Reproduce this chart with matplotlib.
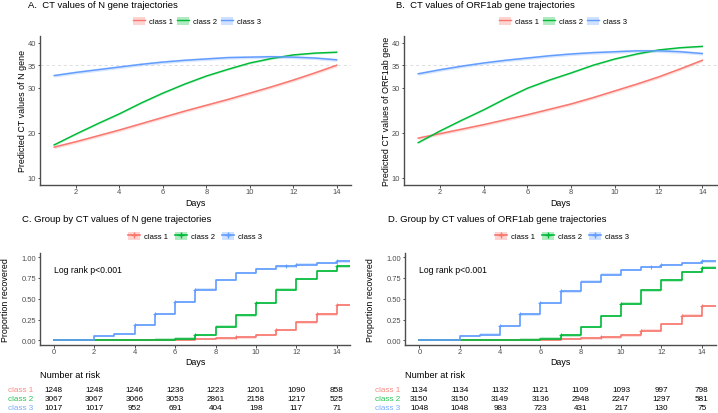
import matplotlib as mpl
mpl.use("Agg")
import numpy as np
import matplotlib.pyplot as plt
from matplotlib.patches import Patch
from matplotlib.lines import Line2D
from matplotlib.transforms import blended_transform_factory

plt.rcParams["font.family"] = ["Liberation Sans", "DejaVu Sans"]

W, H = 718, 414
COLS = ["#F8766D", "#00BA38", "#619CFF"]
CLASSES = ["class 1", "class 2", "class 3"]

# ---- trajectory data (predicted CT by day) ----
traj_days = list(range(1, 15))
n_gene = [
    [16.8, 18.0, 19.3, 20.6, 22.0, 23.4, 24.8, 26.1, 27.4, 28.8, 30.2, 31.7, 33.3, 35.0],
    [17.3, 19.7, 22.0, 24.2, 26.6, 28.8, 30.8, 32.6, 34.1, 35.5, 36.5, 37.3, 37.7, 37.9],
    [32.7, 33.4, 34.0, 34.6, 35.2, 35.7, 36.1, 36.4, 36.7, 36.8, 36.9, 36.8, 36.6, 36.2],
]
orf_gene = [
    [18.8, 19.8, 20.8, 21.8, 22.9, 24.0, 25.2, 26.4, 27.8, 29.3, 30.8, 32.4, 34.2, 36.1],
    [17.8, 20.4, 22.8, 25.1, 27.6, 29.9, 31.7, 33.3, 35.0, 36.4, 37.5, 38.4, 38.9, 39.2],
    [33.1, 34.0, 34.8, 35.5, 36.1, 36.6, 37.1, 37.5, 37.8, 38.0, 38.2, 38.2, 38.0, 37.6],
]
traj_ci = [0.35, 0.2, 0.35]

# ---- Kaplan-Meier data (proportion recovered, step after each day) ----
km_days = list(range(0, 15))
km_n = [
    [0, 0, 0.002, 0.003, 0.004, 0.006, 0.01, 0.015, 0.025, 0.035, 0.065, 0.125, 0.217, 0.313, 0.425],
    [0, 0, 0.003, 0.004, 0.005, 0.008, 0.02, 0.065, 0.165, 0.30, 0.45, 0.61, 0.735, 0.835, 0.888],
    [0, 0, 0.052, 0.076, 0.185, 0.317, 0.458, 0.61, 0.727, 0.81, 0.86, 0.888, 0.91, 0.93, 0.948],
]
km_orf = [
    [0, 0, 0.002, 0.003, 0.004, 0.006, 0.01, 0.015, 0.025, 0.035, 0.06, 0.117, 0.197, 0.297, 0.41],
    [0, 0, 0.003, 0.004, 0.005, 0.008, 0.02, 0.06, 0.16, 0.29, 0.44, 0.60, 0.72, 0.82, 0.875],
    [0, 0, 0.05, 0.07, 0.175, 0.313, 0.45, 0.59, 0.707, 0.79, 0.847, 0.88, 0.908, 0.928, 0.948],
]
censor_times = [
    [9.0, 11.0, 13.0, 14.0],
    [7.0, 10.0, 14.0],
    [4.0, 5.0, 6.0, 7.0, 11.5, 12.0, 14.0],
]

risk_days = [0, 2, 4, 6, 8, 10, 12, 14]
risk_n = [
    [1248, 1248, 1246, 1236, 1223, 1201, 1090, 858],
    [3067, 3067, 3066, 3053, 2861, 2158, 1217, 525],
    [1017, 1017, 952, 691, 404, 198, 117, 71],
]
risk_orf = [
    [1134, 1134, 1132, 1121, 1109, 1093, 997, 798],
    [3150, 3150, 3149, 3136, 2948, 2247, 1297, 581],
    [1048, 1048, 983, 723, 431, 217, 130, 75],
]

fig = plt.figure(figsize=(W / 100, H / 100), dpi=100)

TICK_FS = 5.4
LAB_FS = 6.4
TITLE_FS = 6.8
LEG_FS = 5.5


def px_axes(l, t, r, b):
    return fig.add_axes([l / W, 1 - b / H, (r - l) / W, (b - t) / H])


def style_ax(ax):
    for s in ["top", "right"]:
        ax.spines[s].set_visible(False)
    for s in ["left", "bottom"]:
        ax.spines[s].set_color("#4d4d4d")
        ax.spines[s].set_linewidth(1.0)
    ax.tick_params(labelsize=TICK_FS, colors="#4d4d4d", length=1.8, width=0.7, pad=1)


def traj_panel(l, r, data, title, ylabel, tx, lx):
    ax = px_axes(l, 37, r, 185.5)
    d = np.array(traj_days)
    ax.axhline(35, color="#dddddd", lw=0.7, ls=(0, (3, 3)), zorder=0)
    for i in range(3):
        y = np.array(data[i])
        ax.fill_between(d, y - traj_ci[i], y + traj_ci[i], color=COLS[i], alpha=0.25, lw=0)
        ax.plot(d, y, color=COLS[i], lw=1.05)
    ax.set_xlim(0.35, 14.65)
    ax.set_ylim(8.5, 41.5)
    ax.set_xticks([2, 4, 6, 8, 10, 12, 14])
    ax.set_yticks([10, 20, 30, 35, 40])
    ax.set_xlabel("Days", fontsize=LAB_FS, labelpad=1.8)
    ax.set_ylabel(ylabel, fontsize=LAB_FS)
    ax.yaxis.set_label_coords(-0.042, 0.5)
    style_ax(ax)
    fig.text(tx / W, 1 - 5.5 / H, title, fontsize=TITLE_FS, va="center", ha="left")
    handles = [(Patch(facecolor=c, alpha=0.3, lw=0), Line2D([0], [0], color=c, lw=1.0)) for c in COLS]
    fig.legend(handles, CLASSES, loc="center", bbox_to_anchor=(lx / W, 1 - 22 / H), ncol=3,
               frameon=False, fontsize=LEG_FS, handlelength=1.55, handleheight=1.3,
               handletextpad=0.5, columnspacing=0.6)
    return ax


def km_panel(l, r, xlo, xhi, km, risk, title, tx, lx, lab_x):
    ax = px_axes(l, 254, r, 345.5)
    days = np.array(km_days, dtype=float)
    xs = np.append(days, xhi)
    for i in range(3):
        y = np.array(km[i])
        ys = np.append(y, y[-1])
        ax.fill_between(xs, np.clip(ys - 0.015, 0, 1), ys + 0.015, step="post",
                        color=COLS[i], alpha=0.25, lw=0)
        ax.step(xs, ys, where="post", color=COLS[i], lw=1.2)
        ct = np.array(censor_times[i])
        idx = np.searchsorted(days, ct, side="right") - 1
        ax.plot(ct, y[idx], ls="none", marker="+", ms=3.5, mew=0.7, color=COLS[i])
    ax.set_xlim(xlo, xhi)
    ax.set_ylim(-0.05, 1.05)
    ax.set_xticks([0, 2, 4, 6, 8, 10, 12, 14])
    ax.set_yticks([0, 0.25, 0.5, 0.75, 1.0])
    ax.set_yticklabels(["0.00", "0.25", "0.50", "0.75", "1.00"])
    ax.set_xlabel("Days", fontsize=LAB_FS, labelpad=1.5)
    ax.set_ylabel("Proportion recovered", fontsize=LAB_FS)
    ax.yaxis.set_label_coords(-0.098, 0.5)
    ax.text(0, 0.85, "Log rank p<0.001", fontsize=6.2, va="center", ha="left")
    style_ax(ax)
    fig.text(tx / W, 1 - 220 / H, title, fontsize=TITLE_FS, va="center", ha="left")
    handles = [Line2D([0], [0], color=c, lw=1.2, marker="+", ms=4) for c in COLS]
    handles = [(Patch(facecolor=c, alpha=0.3, lw=0), h) for c, h in zip(COLS, handles)]
    fig.legend(handles, CLASSES, loc="center", bbox_to_anchor=(lx / W, 1 - 237 / H), ncol=3,
               frameon=False, fontsize=LEG_FS, handlelength=1.55, handleheight=1.3,
               handletextpad=0.5, columnspacing=1.0)
    # risk table
    tr = blended_transform_factory(ax.transData, fig.transFigure)
    fig.text(l / W, 1 - 376 / H, "Number at risk", fontsize=6.6, va="center", ha="left")
    rows_y = [391, 400, 409]
    for i in range(3):
        fig.text(lab_x / W, 1 - rows_y[i] / H, CLASSES[i], fontsize=5.9, color=COLS[i],
                 alpha=0.85, va="center", ha="right")
        for dday, n in zip(risk_days, risk[i]):
            ax.text(dday, 1 - rows_y[i] / H, str(n), transform=tr, fontsize=5.9,
                    va="center", ha="center", clip_on=False)
    return ax


traj_panel(40, 350.8, n_gene, "A.  CT values of N gene trajectories",
           "Predicted CT values of N gene", 28, 197)
traj_panel(404, 716.5, orf_gene, "B.  CT values of ORF1ab gene trajectories",
           "Predicted CT values of ORF1ab gene", 396, 563)
km_panel(40, 350, -0.68, 14.65, km_n, risk_n,
         "C. Group by CT values of N gene trajectories", 22, 195, 33)
km_panel(405, 716, -0.71, 14.71, km_orf, risk_orf,
         "D. Group by CT values of ORF1ab gene trajectories", 388, 562, 400)

fig.savefig("out.png", dpi=100)
